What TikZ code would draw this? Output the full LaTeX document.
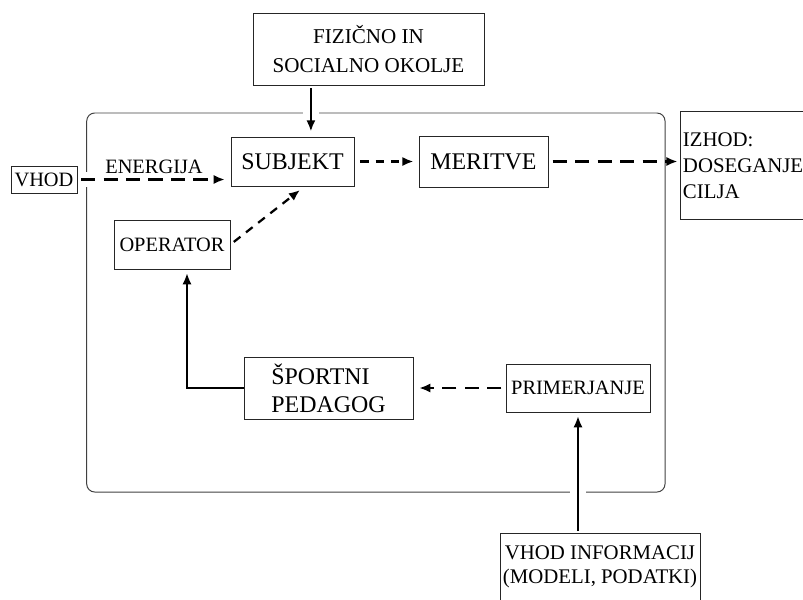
\documentclass[tikz,border=0pt]{standalone}
\usepackage{fontspec}
\setmainfont{Liberation Serif}
\usetikzlibrary{positioning,arrows.meta}

\begin{document}
\begin{tikzpicture}
[
box/.style={draw=black!85, line width=0.7pt, inner sep=0pt, align=center},
big/.style={font=\fontsize{17}{20}\selectfont},
small/.style={font=\fontsize{14.5}{18}\selectfont},
flow/.style={->, line width=1.6pt},
longdash/.style={dash pattern=on 10pt off 6pt},
shortdash/.style={dash pattern=on 6pt off 5pt},
gap/.style={preaction={draw=white, line width=11pt, -, solid}},
>={Latex[length=8pt,width=6.5pt]},
node distance=1cm,
]
\useasboundingbox (0,0) rectangle (20.075,-14.975);

%Frame
\draw[black!75, line width=0.7pt, rounded corners=0.2cm] (2.1675,-2.825) rectangle (16.625,-12.3);

%Nodes
\node[box, font=\fontsize{15}{21}\selectfont] (okolje) [minimum width=5.775cm, minimum height=1.8cm] at (9.2125,-1.225) {FIZIČNO IN\\SOCIALNO OKOLJE};
\node[box, big] (subjekt) [minimum width=3.075cm, minimum height=1.225cm] at (7.3125,-4.0375) {SUBJEKT};
\node[box, big] (meritve) [right=1.6cm of subjekt, minimum width=3.225cm, minimum height=1.275cm] {MERITVE};
\node[box, font=\fontsize{14.8}{18.5}\selectfont] (izhod) [right=3.3cm of meritve, yshift=-0.11cm, text width=3.2cm, inner xsep=0.05cm, align=left, minimum height=2.7cm] {IZHOD:\\DOSEGANJE\\CILJA};
\node[box, small] (vhod) [minimum width=1.65cm, minimum height=0.675cm] at (1.1,-4.4875) {VHOD};
\node[box, small] (operator) [minimum width=2.9cm, minimum height=1.225cm] at (4.3,-6.1125) {OPERATOR};
\node[box, big] (sportni) [minimum width=4.225cm, minimum height=1.55cm, align=left] at (8.2125,-9.7) {ŠPORTNI\\PEDAGOG};
\node[box, small] (primerjanje) [right=2.3cm of sportni, minimum width=3.6cm, minimum height=1.2cm] {PRIMERJANJE};
\node[box, font=\fontsize{14.8}{17}\selectfont] (vhodinf) [minimum width=5cm, minimum height=1.7cm] at (15,-14.175) {VHOD INFORMACIJ\\(MODELI, PODATKI)};

%Lines
\coordinate (drop) at ([xshift=0.46cm]subjekt.north);
\coordinate (riser) at ([xshift=0.375cm]operator.south);
\draw[flow, gap, shorten <=2pt, shorten >=3.5pt] (drop |- okolje.south) -- (drop);
\draw[flow, longdash, gap, shorten <=2.5pt, shorten >=4pt] (vhod.east) -- (vhod.east -| subjekt.west) node[small, above, midway] {ENERGIJA};
\draw[flow, shortdash, shorten <=3pt, shorten >=4pt] (operator.east) -- ([xshift=0.3cm]subjekt.south);
\draw[flow, shortdash, shorten <=4pt, shorten >=3.5pt] (subjekt.east) -- (meritve.west);
\draw[flow, longdash, shorten <=3pt, shorten >=2pt] (meritve.east) -- (meritve.east -| izhod.west);
\draw[flow, longdash, shorten <=3pt, shorten >=4pt] (primerjanje.west) -- (sportni.east);
\draw[flow, shorten >=2.5pt] (sportni.west) -| (riser);
\draw[flow, gap, shorten <=1pt, shorten >=2.5pt] (primerjanje.south |- vhodinf.north) -- (primerjanje.south);
\end{tikzpicture}
\end{document}
